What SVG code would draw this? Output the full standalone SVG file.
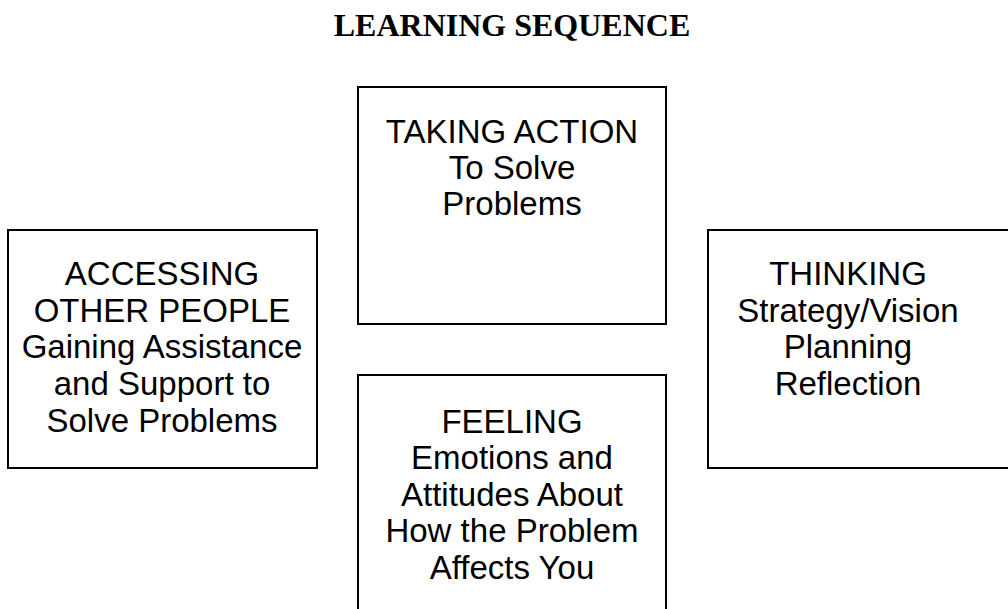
<svg xmlns="http://www.w3.org/2000/svg" width="1008" height="609" viewBox="0 0 1008 609">
<style>
.box{fill:#fff;stroke:#000;stroke-width:2}
.t{font-family:"Liberation Sans",Arial,sans-serif;font-size:33px;fill:#000;text-anchor:middle}
.title{font-family:"Liberation Serif","Times New Roman",serif;font-size:32px;font-weight:bold;fill:#000;text-anchor:middle}
</style>
<rect width="1008" height="609" fill="#fff"/>
<text class="title" x="512" y="36">LEARNING SEQUENCE</text>
<g id="connectors"></g>
<g id="taking-action">
<rect class="box" x="358" y="87" width="308" height="237"/>
<text class="t" x="512" y="143">TAKING ACTION</text>
<text class="t" x="512" y="179">To Solve</text>
<text class="t" x="512" y="215">Problems</text>
</g>
<g id="accessing">
<rect class="box" x="8" y="230" width="309" height="238"/>
<text class="t" x="162" y="285">ACCESSING</text>
<text class="t" x="162" y="322">OTHER PEOPLE</text>
<text class="t" x="162" y="358">Gaining Assistance</text>
<text class="t" x="162" y="395">and Support to</text>
<text class="t" x="162" y="432">Solve Problems</text>
</g>
<g id="thinking">
<rect class="box" x="708" y="230" width="309" height="238"/>
<text class="t" x="848" y="285">THINKING</text>
<text class="t" x="848" y="322">Strategy/Vision</text>
<text class="t" x="848" y="358">Planning</text>
<text class="t" x="848" y="395">Reflection</text>
</g>
<g id="feeling">
<rect class="box" x="358" y="375" width="308" height="250"/>
<text class="t" x="512" y="433">FEELING</text>
<text class="t" x="512" y="469">Emotions and</text>
<text class="t" x="512" y="506">Attitudes About</text>
<text class="t" x="512" y="542">How the Problem</text>
<text class="t" x="512" y="579">Affects You</text>
</g>
</svg>
